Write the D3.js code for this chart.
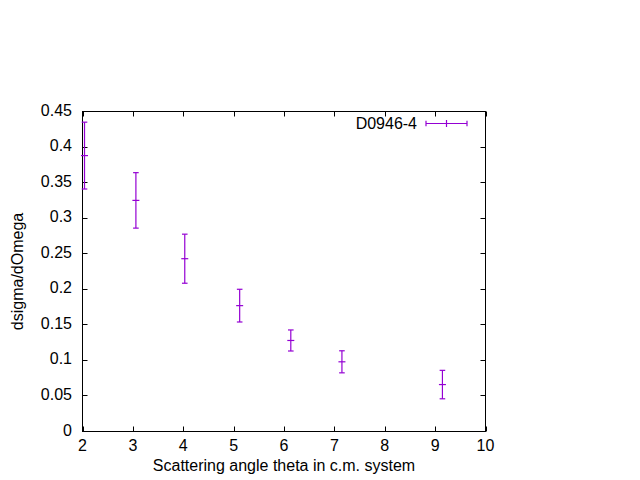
<!DOCTYPE html>
<html><head><meta charset="utf-8">
<script src="https://cdn.jsdelivr.net/npm/d3@7"></script>
<style>body{margin:0;background:#fff;} svg{display:block;}</style>
</head><body>
<svg id="c" width="640" height="480"></svg>
<script>
const seriesName = "D0946-4";
const xVals = [2.04, 3.06, 4.03, 5.12, 6.135, 7.15, 9.145];
const yVals = [0.388, 0.325, 0.243, 0.177, 0.128, 0.098, 0.066];
const errVals = [0.047, 0.039, 0.0345, 0.023, 0.0148, 0.0155, 0.020];
const xTicks = [2, 3, 4, 5, 6, 7, 8, 9, 10];
const yTicks = [0, 0.05, 0.1, 0.15, 0.2, 0.25, 0.3, 0.35, 0.4, 0.45];
const xTitle = "Scattering angle theta in c.m. system";
const yTitle = "dsigma/dOmega";

const color = "#9400d3";
const font = "'Liberation Sans', Arial, sans-serif";
const fs = 16;
const L = 82.5, R = 485.5, T = 111.5, B = 431.5;
const svg = d3.select("#c");
const x = d3.scaleLinear().domain([2, 10]).range([L, R]);
const y = d3.scaleLinear().domain([0, 0.45]).range([B, T]);
const tl = 5;

const g = svg.append("g");
// ticks (inward, mirrored)
const tg = g.append("g").attr("stroke", "#000").attr("stroke-width", 1);
xTicks.forEach(t => {
  const px = Math.round(x(t)) + 0.5;
  tg.append("line").attr("x1", px).attr("x2", px).attr("y1", B).attr("y2", B - tl);
  tg.append("line").attr("x1", px).attr("x2", px).attr("y1", T).attr("y2", T + tl);
});
yTicks.forEach(t => {
  const py = Math.round(y(t) - 0.5) + 0.5;
  tg.append("line").attr("x1", L).attr("x2", L + tl).attr("y1", py).attr("y2", py);
  tg.append("line").attr("x1", R).attr("x2", R - tl).attr("y1", py).attr("y2", py);
});
g.append("rect").attr("x", L).attr("y", T).attr("width", R - L).attr("height", B - T)
  .attr("fill", "none").attr("stroke", "#000").attr("stroke-width", 1);

// tick labels
const fmt = d => d3.format("")(+d.toFixed(2));
xTicks.forEach(t => {
  g.append("text").attr("x", x(t)).attr("y", B + 19.5).attr("text-anchor", "middle")
    .attr("font-family", font).attr("font-size", fs).text(fmt(t));
});
yTicks.forEach(t => {
  g.append("text").attr("x", L - 10.5).attr("y", y(t) + 4).attr("text-anchor", "end")
    .attr("font-family", font).attr("font-size", fs).text(fmt(t));
});
g.append("text").attr("x", (L + R) / 2).attr("y", 471).attr("text-anchor", "middle")
  .attr("font-family", font).attr("font-size", fs).text(xTitle);
g.append("text").attr("transform", `translate(22.5,${(T + B) / 2}) rotate(-90)`)
  .attr("text-anchor", "middle").attr("font-family", font).attr("font-size", fs).text(yTitle);

// error bars
const eg = g.append("g").attr("stroke", color).attr("stroke-width", 1.2).attr("fill", "none");
xVals.forEach((xv, i) => {
  const px = x(xv), yc = y(yVals[i]), yt = y(yVals[i] + errVals[i]), yb = y(yVals[i] - errVals[i]);
  eg.append("line").attr("x1", px).attr("x2", px).attr("y1", yt).attr("y2", yb);
  eg.append("line").attr("x1", px - 2.8).attr("x2", px + 2.8).attr("y1", yt).attr("y2", yt);
  eg.append("line").attr("x1", px - 2.8).attr("x2", px + 2.8).attr("y1", yb).attr("y2", yb);
  eg.append("line").attr("x1", px - 3.5).attr("x2", px + 3.5).attr("y1", yc).attr("y2", yc);
});

// legend
const ly = 123.5, lx1 = 426, lx2 = 467;
g.append("text").attr("x", 417).attr("y", ly + 5.5).attr("text-anchor", "end")
  .attr("font-family", font).attr("font-size", fs).text(seriesName);
eg.append("line").attr("x1", lx1).attr("x2", lx2).attr("y1", ly).attr("y2", ly);
eg.append("line").attr("x1", lx1).attr("x2", lx1).attr("y1", ly - 2.8).attr("y2", ly + 2.8);
eg.append("line").attr("x1", lx2).attr("x2", lx2).attr("y1", ly - 2.8).attr("y2", ly + 2.8);
eg.append("line").attr("x1", (lx1 + lx2) / 2).attr("x2", (lx1 + lx2) / 2).attr("y1", ly - 3.5).attr("y2", ly + 3.5);
</script>
</body></html>
